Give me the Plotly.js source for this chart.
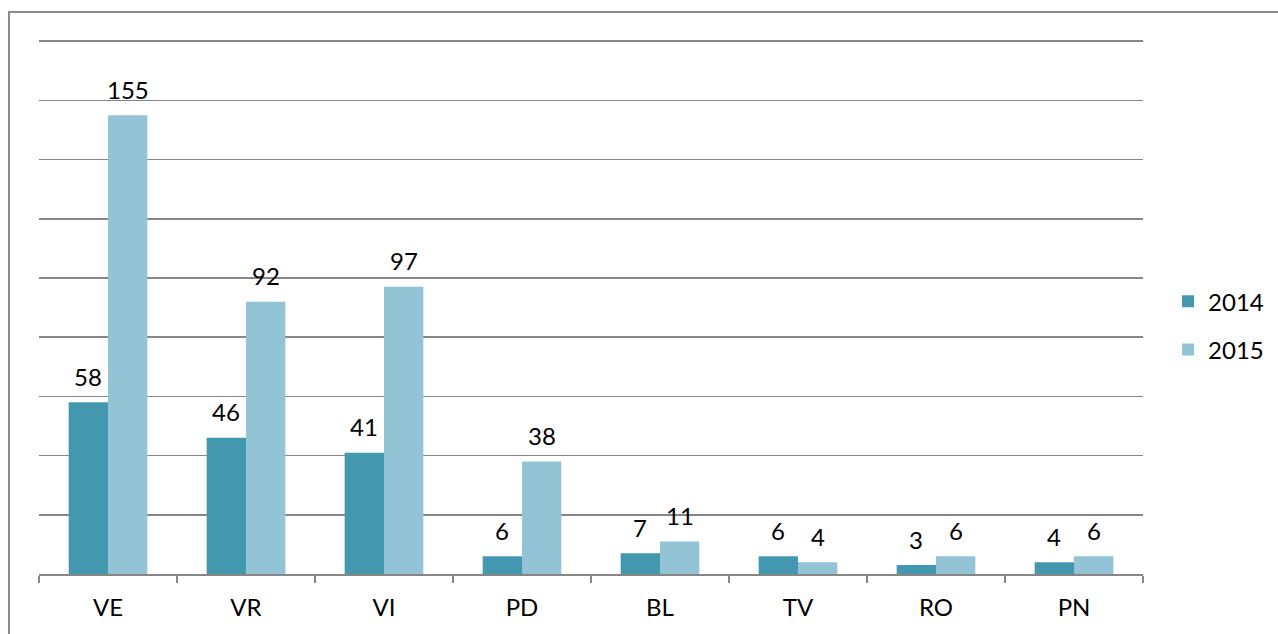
<!DOCTYPE html>
<html>
<head>
<meta charset="utf-8">
<script src="https://cdn.plot.ly/plotly-3.0.1.min.js"></script>
<style>html,body{margin:0;padding:0;background:#fff;}#chart{width:1278px;height:634px;}</style>
</head>
<body>
<div id="chart"></div>
<script>
const categories = ["VE", "VR", "VI", "PD", "BL", "TV", "RO", "PN"];
const values2014 = [58, 46, 41, 6, 7, 6, 3, 4];
const values2015 = [155, 92, 97, 38, 11, 4, 6, 6];
const seriesNames = ["2014", "2015"];

const FONT = "Lato, 'Open Sans', sans-serif";
const colors = ["#4398B0", "#93C4D5"];

const traces = [values2014, values2015].map((vals, i) => ({
  type: "bar",
  name: seriesNames[i],
  x: categories,
  y: vals,
  marker: { color: colors[i], line: { width: 0 } },
  legendgroup: "g" + i,
  hoverinfo: "x+y+name"
}));

const annotations = [];
[values2014, values2015].forEach((vals, i) => {
  vals.forEach((v, j) => {
    annotations.push({
      x: categories[j], y: v, xref: "x", yref: "y",
      text: String(v), showarrow: false,
      xshift: i === 0 ? -19.75 : 19.75,
      yshift: 26, yanchor: "middle", xanchor: "center",
      font: { family: FONT, size: 24, color: "#000" }
    });
  });
});

const layout = {
  width: 1278, height: 634,
  margin: { l: 39, r: 135, t: 40, b: 60, autoexpand: false },
  paper_bgcolor: "#fff", plot_bgcolor: "#fff",
  barmode: "group", bargap: 0.43, bargroupgap: 0,
  font: { family: FONT, size: 24, color: "#000" },
  showlegend: true,
  legend: {
    x: 1.0227, xanchor: "left", y: 0.465, yanchor: "middle",
    font: { family: FONT, size: 24, color: "#000" },
    tracegroupgap: 14, traceorder: "grouped",
    bgcolor: "rgba(0,0,0,0)"
  },
  xaxis: {
    type: "category",
    tickson: "boundaries",
    ticks: "outside", ticklen: 7, tickwidth: 1.5, tickcolor: "#868686",
    showline: true, linecolor: "#868686", linewidth: 1.5,
    showgrid: false, zeroline: false,
    ticklabelstandoff: 12,
    tickfont: { family: FONT, size: 24, color: "#000" },
    fixedrange: true
  },
  yaxis: {
    range: [0, 180.4], dtick: 20, tick0: 0,
    showticklabels: false, ticks: "",
    showgrid: true, gridcolor: "#868686", gridwidth: 1.5,
    showline: false, zeroline: false,
    fixedrange: true
  },
  shapes: [{
    type: "rect", xref: "paper", yref: "paper",
    x0: -0.0272, x1: 1.3, y0: -0.3, y1: 1.0524,
    line: { color: "#8C8C8C", width: 2 }, fillcolor: "rgba(0,0,0,0)",
    layer: "below"
  }],
  annotations: annotations
};

Plotly.newPlot("chart", traces, layout, { displayModeBar: false, staticPlot: true });
</script>
</body>
</html>
